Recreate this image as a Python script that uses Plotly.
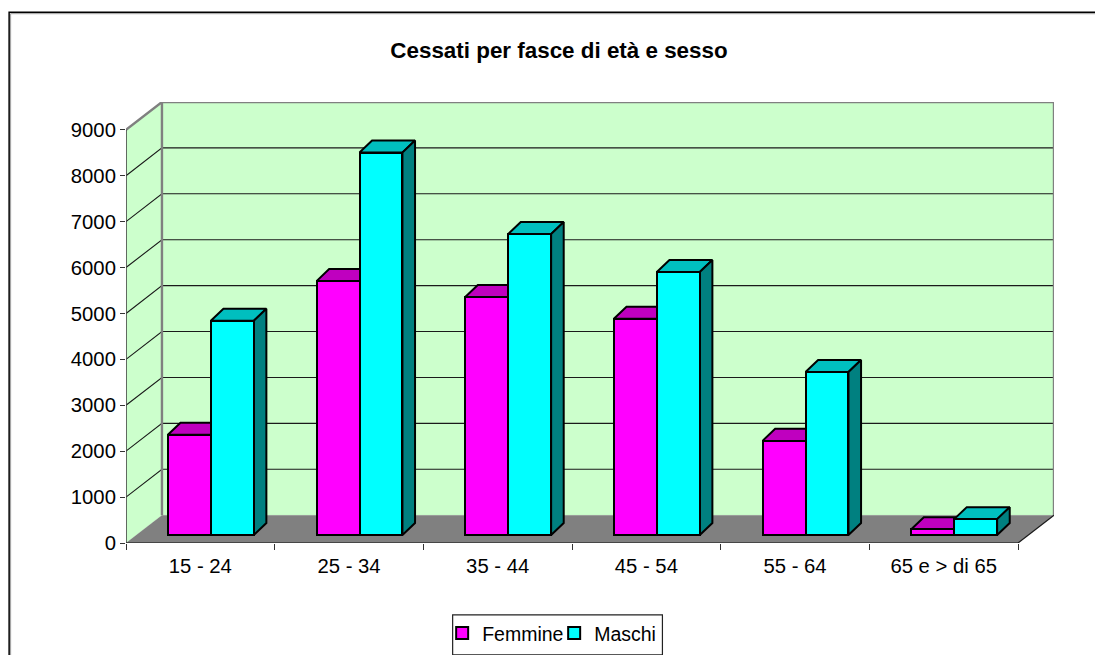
import plotly.graph_objects as go

# ---- data ----
categories = ["15 - 24", "25 - 34", "35 - 44", "45 - 54", "55 - 64", "65 e > di 65"]
femmine = [2185, 5530, 5185, 4710, 2050, 125]
maschi = [4665, 8330, 6555, 5730, 3550, 345]
y_ticks = [0, 1000, 2000, 3000, 4000, 5000, 6000, 7000, 8000, 9000]
title_text = "Cessati per fasce di età e sesso"

# ---- page geometry (pixels) ----
W, H = 1095, 655
X0, X6 = 125.5, 1018.5      # front axis, first and last category boundary
YB, Y9 = 542.7, 130.0       # value 0 and value 9000 on the front plane
WALL_DX, WALL_DY = 36.0, 27.8
BAR_DX, BAR_DY = 12.6, 12.0
BAR_LIFT, BAR_SHIFT, BAR_W = 8.0, 10.5, 43.0

cat_px = (X6 - X0) / len(categories)
val_px = (YB - Y9) / 9000
wx, wv = WALL_DX / cat_px, WALL_DY / val_px      # wall depth, in axis units
bx, bv = BAR_DX / cat_px, BAR_DY / val_px        # bar depth, in axis units
lift = BAR_LIFT / val_px
shift = BAR_SHIFT / cat_px
w = BAR_W / cat_px
n = len(categories)
x_range = [0, n + wx]
y_range = [0, 9000 + wv]
RIGHT, TOP = X6 + WALL_DX, Y9 - WALL_DY


def px(x):
    return (x - X0) / (RIGHT - X0)


def py(y):
    return (YB - y) / (YB - TOP)


GREEN, GRAY = "#CCFFCC", "#808080"
fig = go.Figure()


def poly(xs, ys, fill, line="black", width=1.0):
    fig.add_trace(go.Scatter(x=xs, y=ys, mode="lines", fill="toself", fillcolor=fill,
                             line=dict(color=line, width=width), showlegend=False,
                             hoverinfo="skip", cliponaxis=False))


def seg(xs, ys, color, width):
    fig.add_trace(go.Scatter(x=xs, y=ys, mode="lines", line=dict(color=color, width=width),
                             showlegend=False, hoverinfo="skip", cliponaxis=False))


# walls and floor
poly([0, wx, wx, 0, 0], [0, wv, 9000 + wv, 9000, 0], GREEN, GREEN, 0.1)
poly([wx, n + wx, n + wx, wx, wx], [wv, wv, 9000 + wv, 9000 + wv, wv], GREEN, GREEN, 0.1)
poly([0, wx, n + wx, n, 0], [0, wv, wv, 0, 0], GRAY, GRAY, 0.1)
# gridlines on side wall and back wall
for v in y_ticks[1:-1]:
    seg([0, wx, n + wx], [v, v + wv, v + wv], "#1a1a1a", 1.1)
# wall outline
seg([0, wx, n + wx, n + wx], [9000, 9000 + wv, 9000 + wv, wv], GRAY, 2.4)
seg([wx, wx], [wv, 9000 + wv], GRAY, 2.4)
seg([n, n + wx], [0, wv], "#1a1a1a", 1.2)
# front axis lines
seg([0, 0], [0, 9000], "#444444", 1.6)
seg([0, n], [0, 0], "#333333", 1.6)

# tops and sides of the bars
series = [("Femmine", femmine, "#FF00FF", "#BF00BF", "#800080", -w),
          ("Maschi", maschi, "#00FFFF", "#00BFBF", "#008080", 0.0)]
for name, vals, front, top, side, off in series:
    for i, v in enumerate(vals):
        x1 = i + 0.5 + shift + off
        x2 = x1 + w
        yt = lift + v
        poly([x1, x1 + bx, x2 + bx, x2, x1], [yt, yt + bv, yt + bv, yt, yt], top, "black", 2)
        poly([x2, x2 + bx, x2 + bx, x2, x2], [lift, lift + bv, yt + bv, yt, lift], side, "black", 2)

# front faces
centers = [i + 0.5 + shift for i in range(n)]
for name, vals, front, top, side, off in series:
    fig.add_trace(go.Bar(x=centers, y=vals, base=lift, width=w, offset=off, name=name,
                         marker=dict(color=front, line=dict(color="black", width=2)),
                         xaxis="x2", yaxis="y2", cliponaxis=False))

frame = f"M{px(8.5)},{py(H + 5)} L{px(8.5)},{py(12.5)} L{px(W + 5)},{py(12.5)}"
frame2 = f"M{px(10)},{py(H + 5)} L{px(10)},{py(14)} L{px(W + 5)},{py(14)}"
shapes = [
    dict(type="path", xref="paper", yref="paper", path=frame2, line=dict(color="#9a9a9a", width=1)),
    dict(type="path", xref="paper", yref="paper", path=frame, line=dict(color="black", width=1.5)),
    dict(type="rect", xref="paper", yref="paper", x0=px(452.5), x1=px(662.5), y0=py(614.5), y1=py(654.5),
         line=dict(color="#222222", width=1.2), fillcolor="white", layer="below"),
]

axis_font = dict(family="Liberation Sans, Arial, sans-serif", size=20.3, color="black")
fig.update_layout(
    width=W, height=H, autosize=False,
    margin=dict(l=X0, r=W - RIGHT, t=TOP, b=H - YB, pad=0, autoexpand=False),
    paper_bgcolor="white", plot_bgcolor="white",
    barmode="overlay", bargap=0,
    title=dict(text=f"<b>{title_text}</b>", x=559 / W, xanchor="center", xref="container",
               y=1 - 50 / H, yanchor="middle", yref="container",
               font=dict(family="Liberation Sans, Arial, sans-serif", size=22.4, color="black")),
    xaxis=dict(range=x_range, showgrid=False, zeroline=False, showline=False, ticks="",
               tickmode="array", tickvals=[i + 0.5 for i in range(n)], ticktext=categories,
               tickfont=axis_font, ticklabelstandoff=9,
               minor=dict(tickmode="array", tickvals=list(range(n + 1)), ticks="outside",
                          ticklen=6, tickwidth=1.2, tickcolor="#333333", showgrid=False)),
    yaxis=dict(range=y_range, showgrid=False, zeroline=False, showline=False,
               tickmode="array", tickvals=y_ticks, ticks="outside", ticklen=5, tickwidth=1.2,
               tickcolor="#333333", tickfont=axis_font),
    xaxis2=dict(range=x_range, overlaying="x", visible=False),
    yaxis2=dict(range=y_range, overlaying="y", visible=False),
    legend=dict(orientation="h", x=px(442), y=py(633), xanchor="left", yanchor="middle",
                bgcolor="rgba(0,0,0,0)", borderwidth=0,
                font=dict(family="Liberation Sans, Arial, sans-serif", size=19.5, color="black"),
                itemwidth=30, entrywidth=67, entrywidthmode="pixels", traceorder="normal",
                itemclick=False, itemdoubleclick=False),
    shapes=shapes,
    showlegend=True,
)

fig.write_html("out.html", config={"displayModeBar": False},
               post_script="document.body.style.margin='0';document.body.style.overflow='hidden';")
